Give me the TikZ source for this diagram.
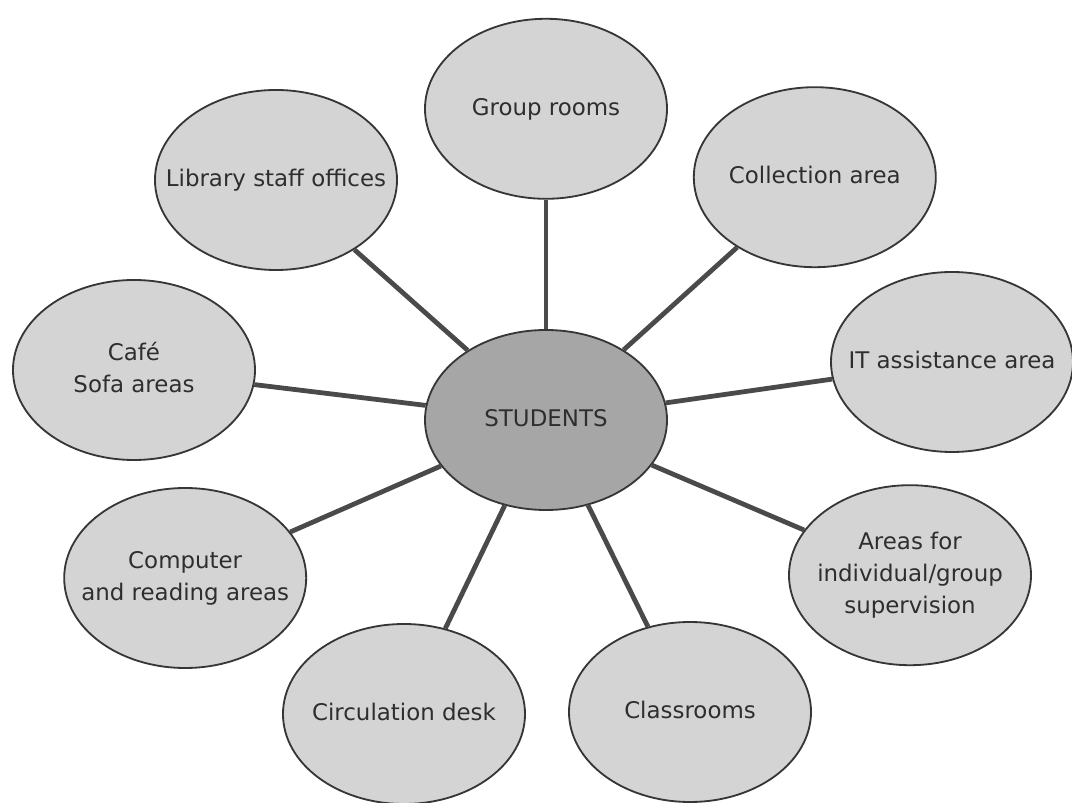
\documentclass[tikz,border=0pt]{standalone}
\usepackage{fontspec}
\setmainfont{DejaVu Sans}
\usepackage{tikz}
\usetikzlibrary{shapes.geometric}
\usepackage{xcolor}

\definecolor{areafill}{HTML}{D4D4D4}
\definecolor{hubfill}{HTML}{A6A6A6}
\definecolor{rimgray}{HTML}{363636}
\definecolor{spokegray}{HTML}{4A4A4A}
\definecolor{textgray}{HTML}{2E2E2E}
\newcommand{\arealabel}[1]{\makebox[0pt]{\begin{tabular}{@{}c@{}}#1\end{tabular}}}

\begin{document}
\begin{tikzpicture}[
  area/.style={ellipse, draw=rimgray, line width=1.3pt, fill=areafill, minimum width=6.05cm, minimum height=4.5cm, inner sep=0pt, text=textgray, font=\fontsize{16.3}{22.7}\selectfont},
  hub/.style={area, fill=hubfill},
  spoke/.style={draw=spokegray, line width=3.4pt}
]
\useasboundingbox (-13.65,-9.575) rectangle (13.15,10.5);

% 中心
\node[hub] (S) at (0,0) {\arealabel{STUDENTS}};

% 周りの楕円
\node[area] (G) at (0,7.78) {\arealabel{Group rooms}};
\node[area] (L) at (-6.75,6.0) {\arealabel{Library staff offices}};
\node[area] (C) at (6.72,6.07) {\arealabel{Collection area}};
\node[area] (F) at (-10.3,1.25) {\arealabel{Café\\Sofa areas}};
\node[area] (I) at (10.15,1.45) {\arealabel{IT assistance area}};
\node[area] (R) at (-9.02,-3.95) {\arealabel{Computer\\and reading areas}};
\node[area] (V) at (9.1,-3.88) {\arealabel{Areas for\\individual/group\\supervision}};
\node[area] (D) at (-3.55,-7.35) {\arealabel{Circulation desk}};
\node[area] (K) at (3.6,-7.3) {\arealabel{Classrooms}};

% 線
\foreach \n in {G,L,C,F,I,R,V,D,K}
  \draw[spoke] (S) -- (\n);

\end{tikzpicture}
\end{document}
